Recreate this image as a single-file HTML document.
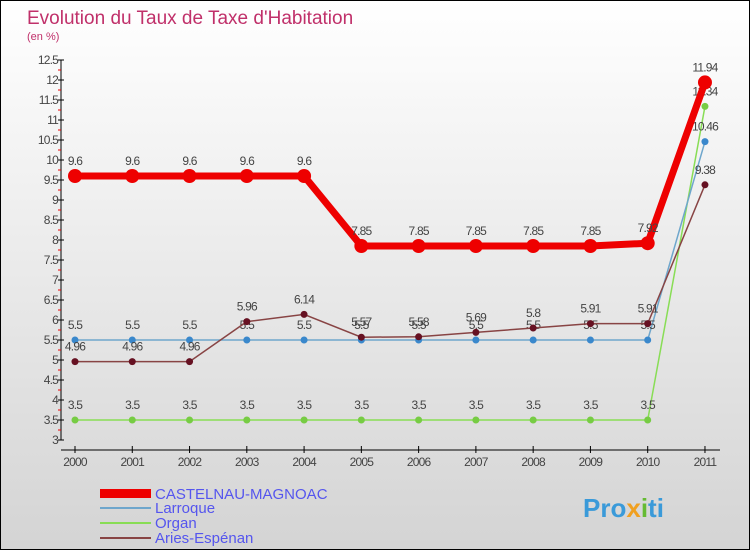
<!DOCTYPE html>
<html><head><meta charset="utf-8"><style>
body{margin:0}
#c{width:750px;height:550px;position:relative;box-sizing:border-box;border:1px solid #000;background:linear-gradient(#fff,#d4d4d4);font-family:"Liberation Sans",sans-serif;overflow:hidden}
</style></head><body>
<div id="c">
<svg id="s" width="750" height="550" style="position:absolute;left:-1px;top:-1px">
<text x="27" y="24" font-size="19" fill="#c0306a">Evolution du Taux de Taxe d'Habitation</text>
<text x="27" y="40" font-size="11" fill="#c0306a">(en %)</text>
<g id="ax"></g><g id="series"></g>
<g>
<rect x="100" y="489" width="51" height="9" fill="#e00"/>
<text x="155" y="499" font-size="15" fill="#5555ee">CASTELNAU-MAGNOAC</text>
<rect x="100" y="507" width="51" height="2" fill="#6ea6cc"/>
<text x="155" y="513" font-size="15" fill="#5555ee">Larroque</text>
<rect x="100" y="522" width="51" height="2" fill="#88dd55"/>
<text x="155" y="528" font-size="15" fill="#5555ee">Organ</text>
<rect x="100" y="537" width="51" height="2" fill="#884444"/>
<text x="155" y="543" font-size="15" fill="#5555ee">Aries-Espénan</text>
</g>
<text x="583" y="517" font-size="26" font-weight="bold" fill="#3a9ad9">Pro<tspan fill="#f0a020">x</tspan><tspan fill="#66bb33">i</tspan>ti</text>
</svg></div>
<script>
const years=[2000,2001,2002,2003,2004,2005,2006,2007,2008,2009,2010,2011];
const castelnau=[9.6,9.6,9.6,9.6,9.6,7.85,7.85,7.85,7.85,7.85,7.92,11.94];
const larroque=[5.5,5.5,5.5,5.5,5.5,5.5,5.5,5.5,5.5,5.5,5.5,10.46];
const organ=[3.5,3.5,3.5,3.5,3.5,3.5,3.5,3.5,3.5,3.5,3.5,11.34];
const aries=[4.96,4.96,4.96,5.96,6.14,5.57,5.58,5.69,5.8,5.91,5.91,9.38];
const yTicks=[3,3.5,4,4.5,5,5.5,6,6.5,7,7.5,8,8.5,9,9.5,10,10.5,11,11.5,12,12.5];
const NS='http://www.w3.org/2000/svg';
const X=i=>75+i*57.27, Y=v=>440-(v-3)*40;
function mk(p,t,a){const e=document.createElementNS(NS,t);for(const k in a)e.setAttribute(k,a[k]);p.appendChild(e);return e;}
const ax=document.getElementById('ax'),sg=document.getElementById('series');
let l=mk(ax,'line',{x1:61,y1:60,x2:61,y2:440,stroke:'#000'});


l=mk(ax,'line',{x1:61,y1:450,x2:720,y2:450,stroke:'#000'});


yTicks.forEach(v=>{mk(ax,'line',{x1:58,y1:Y(v),x2:64,y2:Y(v),stroke:'#000'});
 if(v<12.5)mk(ax,'line',{x1:58,y1:Y(v+0.25),x2:61,y2:Y(v+0.25),stroke:'#e00'});
 const t=mk(ax,'text',{x:58,y:Y(v)+4,'font-size':12,'text-anchor':'end',fill:'#444','letter-spacing':'-0.8'});t.textContent=v;
 
 });
years.forEach((y,i)=>{mk(ax,'line',{x1:X(i),y1:446,x2:X(i),y2:453,stroke:'#000'});
 const t=mk(ax,'text',{x:X(i),y:466,'font-size':12,'text-anchor':'middle',fill:'#444','letter-spacing':'-0.8'});t.textContent=y;
 
 });
function series(d,name,col,dot,w,r){
 const g=mk(sg,'g',{});
 
 
 mk(g,'polyline',{points:d.map((v,i)=>X(i)+','+Y(v)).join(' '),fill:'none',stroke:col,'stroke-width':w});
 d.forEach((v,i)=>{const c=mk(g,'circle',{cx:X(i),cy:Y(v),r:r,fill:dot});
  
  
  const t=mk(g,'text',{x:X(i),y:Y(v)-11,'font-size':12,'text-anchor':'middle',fill:'#444','letter-spacing':'-0.8'});t.textContent=v;
  
  });
}
series(organ,'organ','#88dd55','#77cc44',1.5,3.5);
series(larroque,'larroque','#6ea6cc','#3a88cc',1.5,3.5);
series(aries,'aries','#884444','#661122',1.5,3.5);
series(castelnau,'castelnau','#e00','#e00',7,7);
</script>
</body></html>
